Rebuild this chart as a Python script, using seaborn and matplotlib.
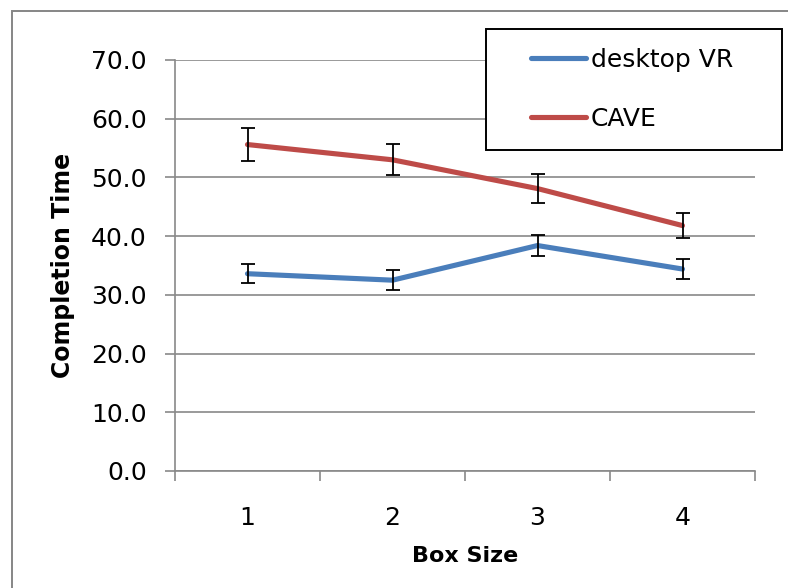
import matplotlib
matplotlib.use("Agg")
import matplotlib.pyplot as plt
import matplotlib.ticker as mticker
from matplotlib.patches import Rectangle
from matplotlib.lines import Line2D
import seaborn as sns
import pandas as pd

box_sizes = [1, 2, 3, 4]
desktop_vr = [33.6, 32.5, 38.4, 34.4]
desktop_vr_err = [1.6, 1.65, 1.8, 1.75]
cave = [55.6, 53.0, 48.1, 41.8]
cave_err = [2.8, 2.65, 2.4, 2.15]
series_names = ["desktop VR", "CAVE"]
y_ticks = [0, 10, 20, 30, 40, 50, 60, 70]

colors = {"desktop VR": "#4A7EBB", "CAVE": "#BE4B48"}

sns.set_style("white")
plt.rcParams["font.family"] = ["DejaVu Sans"]
plt.rcParams["text.color"] = "black"
plt.rcParams["axes.labelcolor"] = "black"
plt.rcParams["xtick.labelcolor"] = "black"
plt.rcParams["ytick.labelcolor"] = "black"

df = pd.DataFrame({
    "Box Size": box_sizes * 2,
    "Completion Time": desktop_vr + cave,
    "series": [series_names[0]] * 4 + [series_names[1]] * 4,
})

W, H = 788, 588
fig = plt.figure(figsize=(W / 100, H / 100), dpi=100)
ax = fig.add_axes([175 / W, 1 - 471 / H, (755 - 175) / W, (471 - 60) / H])

sns.lineplot(data=df, x="Box Size", y="Completion Time", hue="series",
             palette=colors, linewidth=3.7, ax=ax, legend=False,
             zorder=3, solid_capstyle="round")
for vals, errs in [(desktop_vr, desktop_vr_err), (cave, cave_err)]:
    ax.errorbar(box_sizes, vals, yerr=errs, fmt="none", ecolor="black",
                elinewidth=1.3, capsize=5, capthick=1.3, zorder=4)

ax.set_xlim(0.5, 4.5)
ax.set_ylim(0, 70)
ax.set_yticks(y_ticks)
ax.yaxis.set_major_formatter(mticker.FormatStrFormatter("%.1f"))
ax.set_xticks(box_sizes)
ax.set_xticklabels([str(b) for b in box_sizes])
ax.set_xticks([0.5, 1.5, 2.5, 3.5, 4.5], minor=True)

grid_c = "#898989"
ax.yaxis.grid(True, color=grid_c, linewidth=1.2)
ax.xaxis.grid(False)
for s in ["top", "right"]:
    ax.spines[s].set_visible(False)
for s in ["left", "bottom"]:
    ax.spines[s].set_color(grid_c)
    ax.spines[s].set_linewidth(1.2)

ax.tick_params(axis="y", which="major", direction="out", length=7.2, width=1.2,
               color=grid_c, labelsize=18, pad=13, left=True, labelcolor="black")
ax.tick_params(axis="x", which="major", length=0, labelsize=18, pad=25, bottom=True,
               labelcolor="black")
ax.tick_params(axis="x", which="minor", direction="out", length=7.2, width=1.2,
               color=grid_c, bottom=True)

ax.set_xlabel("Box Size", fontsize=16, fontweight="bold", labelpad=12, color="black")
ax.set_ylabel("Completion Time", fontsize=17, fontweight="bold", labelpad=12, color="black")

# legend
handles = [Line2D([0], [0], color=colors[n], linewidth=3.7, solid_capstyle="round")
           for n in series_names]
leg = fig.legend(handles, series_names, loc="upper left",
                 bbox_to_anchor=(531 / W, 1 - 48 / H), frameon=False, fontsize=18,
                 handlelength=2.2, handletextpad=0.2, labelspacing=1.38,
                 borderpad=0, borderaxespad=0)
for t in leg.get_texts():
    t.set_color("black")
fig.patches.append(Rectangle((486 / W, 1 - 150 / H), (782 - 486) / W, (150 - 29) / H,
                             transform=fig.transFigure, fill=True, facecolor="white",
                             edgecolor="black", linewidth=1.4, zorder=5))
# outer border
fig.patches.append(Rectangle((12 / W, -0.1), 1.2, 1.1 - 10.7 / H,
                             transform=fig.transFigure, fill=False,
                             edgecolor="#868686", linewidth=1.4, zorder=0))

fig.savefig("out.png", dpi=100)
